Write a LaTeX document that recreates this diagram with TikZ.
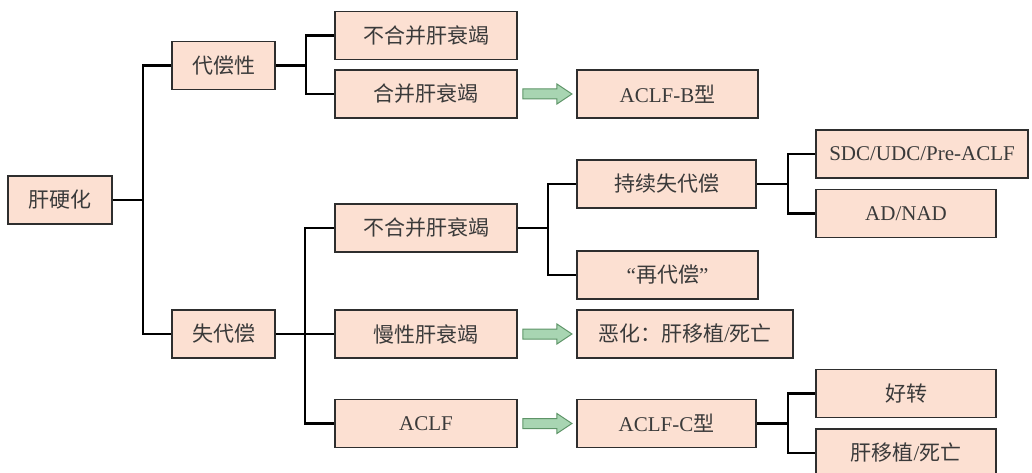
\documentclass[tikz,border=0pt]{standalone}
\usepackage{fontspec}
\setmainfont{Liberation Serif}
\newfontfamily\cjk{Noto Sans CJK SC}
\usetikzlibrary{calc}
\newcommand\zh[1]{{\cjk #1}}
\definecolor{boxfill}{HTML}{FCE0D2}
\definecolor{boxline}{HTML}{2E2E2E}
\definecolor{txt}{HTML}{3A3A3A}
\definecolor{gfill}{HTML}{A8D5B2}
\definecolor{gline}{HTML}{5E9468}
\tikzset{
  box/.style={draw=boxline, fill=boxfill, line width=1.8pt, minimum height=48pt, inner sep=0pt, text=txt, font=\fontsize{21}{24}\selectfont},
  conn/.style={draw=black, line width=2.2pt},
  garrow/.style={draw=gline, fill=gfill, line width=1pt, line join=miter}
}
\newcommand\garrow[1]{\path[garrow] ($(#1.east)+(5,0)$) -- ++(0,-5) -- ++(34,0) -- ++(0,-5) -- ++(15,10) -- ++(-15,10) -- ++(0,-5) -- ++(-34,0) -- cycle;}
\begin{document}
\begin{tikzpicture}[x=1pt,y=-1pt]
\useasboundingbox (0,0) rectangle (1032,473);
\node[box, minimum width=104pt] (cirr) at (60,200) {\zh{肝硬化}};
\node[box, minimum width=103pt] (comp) at (223.5,65.5) {\zh{代偿性}};
\node[box, minimum width=103pt] (decomp) at (223.5,334) {\zh{失代偿}};
\node[box, minimum width=182pt] (nf1) at (426,35.5) {\zh{不合并肝衰竭}};
\node[box, minimum width=182pt] (f1) at (426,94) {\zh{合并肝衰竭}};
\node[box, minimum width=181pt] (aclfb) at (667.5,94) {ACLF-B\zh{型}};
\node[box, minimum width=182pt] (nf2) at (426,228) {\zh{不合并肝衰竭}};
\node[box, minimum width=182pt] (chronic) at (426,334) {\zh{慢性肝衰竭}};
\node[box, minimum width=182pt] (aclf) at (426,423.5) {ACLF};
\node[box, minimum width=179pt] (persist) at (666.5,184) {\zh{持续失代偿}};
\node[box, minimum width=181pt] (recomp) at (667.5,275) {“\zh{再代偿}”};
\node[box, minimum width=216pt] (worse) at (685,334) {\zh{恶化：肝移植}/\zh{死亡}};
\node[box, minimum width=179pt] (aclfc) at (666.5,423.5) {ACLF-C\zh{型}};
\node[box, minimum width=212pt] (sdc) at (922,154) {SDC/UDC/Pre-ACLF};
\node[box, minimum width=180pt] (adnad) at (906,213.5) {AD/NAD};
\node[box, minimum width=180pt] (good) at (906,393.5) {\zh{好转}};
\node[box, minimum width=180pt] (lt) at (906,453) {\zh{肝移植}/\zh{死亡}};
% tree connectors
\draw[conn] (cirr.east) -- ++(30,0) |- (comp.west);
\draw[conn] (cirr.east) ++(30,0) |- (decomp.west);
\draw[conn] (comp.east) -- ++(30,0) |- (nf1.west);
\draw[conn] (comp.east) ++(30,0) |- (f1.west);
\draw[conn] (decomp.east) -- ++(29,0) |- (nf2.west);
\draw[conn] (decomp.east) ++(29,0) |- (chronic.west);
\draw[conn] (decomp.east) ++(29,0) |- (aclf.west);
\draw[conn] (nf2.east) -- ++(30,0) |- (persist.west);
\draw[conn] (nf2.east) ++(30,0) |- (recomp.west);
\draw[conn] (persist.east) -- ++(31,0) |- (sdc.west);
\draw[conn] (persist.east) ++(31,0) |- (adnad.west);
\draw[conn] (aclfc.east) -- ++(31,0) |- (good.west);
\draw[conn] (aclfc.east) ++(31,0) |- (lt.west);
% green arrows
\garrow{f1}
\garrow{chronic}
\garrow{aclf}
\end{tikzpicture}
\end{document}
